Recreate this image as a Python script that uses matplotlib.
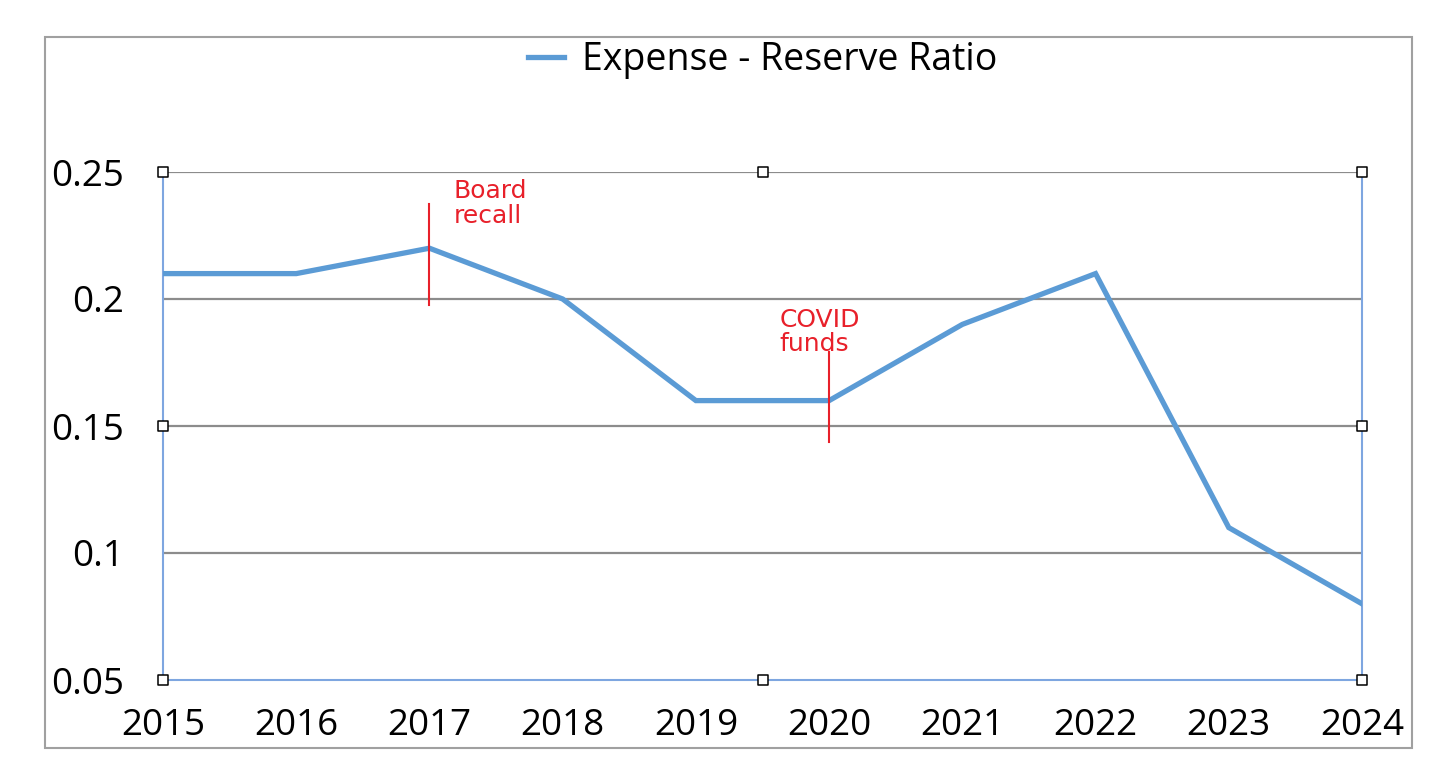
import matplotlib.pyplot as plt
from matplotlib.patches import Rectangle

years = [2015, 2016, 2017, 2018, 2019, 2020, 2021, 2022, 2023, 2024]
ratio = [0.21, 0.21, 0.22, 0.20, 0.16, 0.16, 0.19, 0.21, 0.11, 0.08]
y_ticks = [0.05, 0.1, 0.15, 0.2, 0.25]
y_labels = ['0.05', '0.1', '0.15', '0.2', '0.25']

# hand-drawn notes: (label, year, text position, marker line span)
notes = [
    ('Board\nrecall', 2017, (2017.18, 0.2375), (0.1976, 0.2374)),
    ('COVID\nfunds', 2020, (2019.63, 0.187), (0.1437, 0.1791)),
]

plt.rcParams['font.family'] = ['Open Sans', 'DejaVu Sans']

fig = plt.figure(figsize=(14.56, 7.74), dpi=100)
ax = fig.add_axes([163 / 1456, 1 - 680 / 774, 1199 / 1456, 508 / 774])

# outer chart frame
fig.patches.append(Rectangle((45 / 1456, 1 - 748 / 774), 1367 / 1456, 711 / 774,
                             transform=fig.transFigure, fill=False,
                             edgecolor='#a0a0a0', lw=1.5, zorder=0))

ax.plot(years, ratio, color='#5B9BD5', lw=3.8, solid_joinstyle='miter',
        label='Expense - Reserve Ratio', zorder=3)

ax.set_xlim(2015, 2024)
ax.set_ylim(0.05, 0.25)
ax.set_xticks(years)
ax.set_yticks(y_ticks)
ax.set_yticklabels(y_labels)
ax.tick_params(length=0, labelsize=26.5, colors='black')
ax.tick_params(axis='x', pad=20)
ax.tick_params(axis='y', pad=28)

for v in y_ticks[1:]:
    ax.axhline(v, color='#8c8c8c', lw=1.6, zorder=1)

# selection outline around the plot area
for side in ['left', 'right', 'bottom', 'top']:
    ax.spines[side].set_color('#7ea6e0')
    ax.spines[side].set_linewidth(1.5)
ax.spines['top'].set_visible(False)

# selection handles
hx = [2015, 2019.5, 2024, 2015, 2024, 2015, 2019.5, 2024]
hy = [0.25, 0.25, 0.25, 0.15, 0.15, 0.05, 0.05, 0.05]
ax.scatter(hx, hy, marker='s', s=60, facecolor='white', edgecolor='black',
           linewidth=1.1, zorder=5, clip_on=False)

for label, yr, (tx, ty), (y0, y1) in notes:
    ax.plot([yr, yr], [y0, y1], color='#e8202a', lw=1.5, zorder=4)
    ax.text(tx, ty, label, color='#e8202a', fontsize=18,
            family=['DejaVu Sans'], va='center', ha='left', linespacing=1.05,
            zorder=4)

fig.legend(loc='center', bbox_to_anchor=(0.524, 1 - 60 / 774), frameon=False,
           fontsize=27, handlelength=0.95, handletextpad=0.5)

fig.savefig('out.png', dpi=100, facecolor='white')
